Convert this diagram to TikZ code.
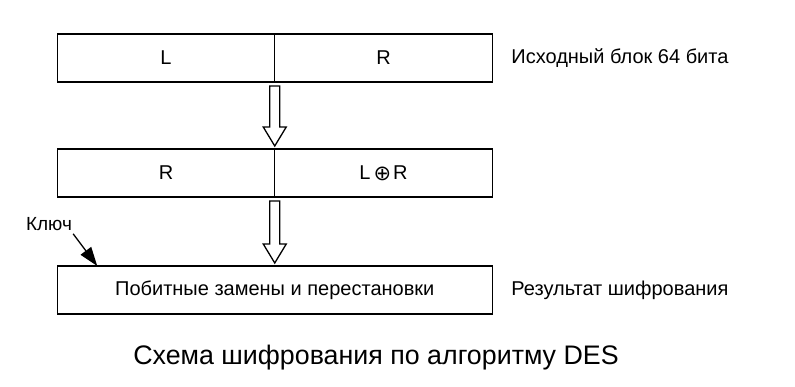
\documentclass[tikz,border=0pt]{standalone}
\usepackage{fontspec}
\setmainfont{Liberation Sans}
\newfontfamily\symfont{DejaVu Sans}
\usetikzlibrary{arrows.meta, positioning, calc}

% hollow block arrow between two node anchors
\newcommand{\blockarrow}[2]{%
  \draw[hollow] let \p1=($(#1)+(0,4)$), \p2=($(#2)+(0,-3)$) in
    (\x1-5pt,\y1) -- (\x1+5pt,\y1) -- (\x1+5pt,\y2+19pt) -- (\x1+11.5pt,\y2+19pt)
    -- (\x1,\y2) -- (\x1-11.5pt,\y2+19pt) -- (\x1-5pt,\y2+19pt) -- cycle;}

\begin{document}
\begin{tikzpicture}[
    x=1pt, y=-1pt,
    node distance=0pt,
    half/.style={rectangle, draw, line width=1.2pt, outer sep=0pt, minimum width=217.5pt, minimum height=48pt, font=\fontsize{20}{24}\selectfont},
    wide/.style={half, minimum width=435pt},
    note/.style={font=\fontsize{20}{24}\selectfont, inner sep=0pt},
    hollow/.style={draw, line width=1.3pt, fill=white},
    arrow/.style={-{Triangle[length=19pt, width=13pt]}, line width=1.3pt}
  ]
    \useasboundingbox (0,0) rectangle (795,387);
    \node[half] (srcL) at (166,58) {L};
    \node[half, right=of srcL] (srcR) {R};
    \node[half, below=67pt of srcL] (midL) {R};
    \node[half, right=of midL] (midR) {L\hspace{3pt}\raisebox{-1pt}{\symfont\fontsize{21}{24}\selectfont ⊕}\hspace{2pt}R};
    \node[wide, below=69pt of midL.south east] (result) {Побитные замены и перестановки};
    \node[note, right=19pt of srcR] (srcnote) {Исходный блок 64 бита};
    \node[note, right=19pt of result] (resnote) {Результат шифрования};
    \node[note, font=\fontsize{19}{22}\selectfont] (key) at (49,224) {Ключ};
    \coordinate (keyin) at ($(result.north west)+(40,0)$);
    \node[font=\fontsize{26.8}{30}\selectfont] (caption) at (376,358) {Схема шифрования по алгоритму DES};
    \blockarrow{srcL.south east}{midL.north east}
    \blockarrow{midL.south east}{result.north}
    \draw[arrow] ($(key.south east)+(1,3)$) -- (keyin);
  \end{tikzpicture}
\end{document}
